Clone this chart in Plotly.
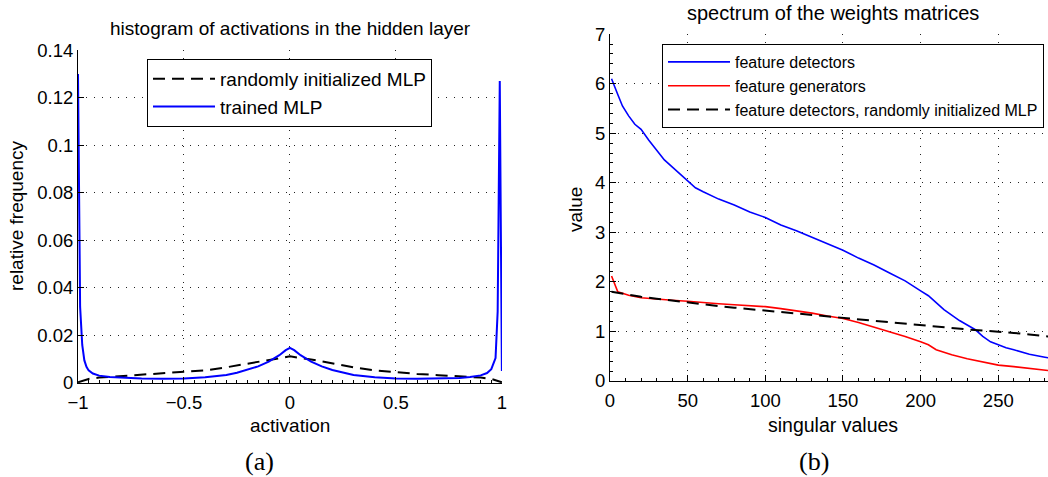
import plotly.graph_objects as go

# ---------------- data: (a) histogram of activations ----------------
act_random = [-1.0, -0.97, -0.95, -0.9, -0.8, -0.7, -0.6, -0.5, -0.4, -0.3, -0.2, -0.1, 0.0,
              0.1, 0.2, 0.3, 0.4, 0.5, 0.6, 0.7, 0.8, 0.9, 0.95, 0.97, 1.0]
freq_random = [0.0003, 0.0012, 0.0017, 0.0023, 0.0029, 0.0033, 0.0038, 0.0044, 0.0053, 0.0066,
               0.0082, 0.0099, 0.0112, 0.0099, 0.0082, 0.0066, 0.0053, 0.0044, 0.0038, 0.0033,
               0.0029, 0.0023, 0.0017, 0.0012, 0.0003]

act_trained = [-1.0, -0.99, -0.98, -0.97, -0.96, -0.95, -0.93, -0.9, -0.85, -0.8, -0.7, -0.6,
               -0.5, -0.4, -0.3, -0.25, -0.2, -0.15, -0.1, -0.05, -0.02, 0.0, 0.02, 0.05, 0.1,
               0.15, 0.2, 0.25, 0.3, 0.4, 0.5, 0.6, 0.7, 0.8, 0.85, 0.9, 0.93, 0.95, 0.97,
               0.98, 0.99, 1.0]
freq_trained = [0.130, 0.032, 0.016, 0.0095, 0.0068, 0.0053, 0.0040, 0.0031, 0.0025, 0.0022,
                0.0019, 0.0018, 0.0019, 0.0024, 0.0034, 0.0043, 0.0055, 0.0070, 0.0090, 0.0117,
                0.0138, 0.0148, 0.0138, 0.0117, 0.0090, 0.0070, 0.0055, 0.0043, 0.0034, 0.0024,
                0.0019, 0.0018, 0.0018, 0.0021, 0.0025, 0.0032, 0.0042, 0.0058, 0.0105, 0.030,
                0.127, 0.005]

hist_xticks = [-1, -0.5, 0, 0.5, 1]
hist_xticktext = ["\u22121", "\u22120.5", "0", "0.5", "1"]
hist_yticks = [0, 0.02, 0.04, 0.06, 0.08, 0.1, 0.12, 0.14]
hist_yticktext = ["0", "0.02", "0.04", "0.06", "0.08", "0.1", "0.12", "0.14"]

# ---------------- data: (b) spectrum of the weights matrices ----------------
sv_det = [1, 3, 5, 8, 12, 16, 20, 25, 30, 35, 40, 45, 50, 55, 60, 70, 80, 90, 100, 110, 120,
          130, 140, 150, 160, 170, 180, 190, 200, 205, 210, 215, 220, 225, 230, 235, 240, 245,
          250, 255, 260, 270, 280, 285]
val_det = [6.10, 5.92, 5.78, 5.55, 5.35, 5.18, 5.08, 4.86, 4.65, 4.46, 4.32, 4.18, 4.05, 3.90,
           3.82, 3.67, 3.55, 3.41, 3.30, 3.15, 3.03, 2.90, 2.78, 2.64, 2.48, 2.34, 2.18, 2.02,
           1.82, 1.72, 1.58, 1.44, 1.33, 1.22, 1.13, 1.04, 0.90, 0.79, 0.73, 0.67, 0.63, 0.54,
           0.48, 0.45]

sv_gen = [1, 3, 5, 8, 12, 20, 30, 40, 50, 60, 70, 80, 90, 100, 110, 120, 130, 140, 150, 160,
          170, 180, 190, 200, 205, 210, 215, 220, 230, 240, 250, 260, 270, 280, 285]
val_gen = [2.12, 1.95, 1.80, 1.77, 1.73, 1.68, 1.65, 1.63, 1.61, 1.58, 1.56, 1.54, 1.52, 1.50,
           1.46, 1.42, 1.37, 1.31, 1.26, 1.18, 1.09, 0.99, 0.90, 0.79, 0.73, 0.63, 0.58, 0.53,
           0.45, 0.38, 0.32, 0.29, 0.25, 0.21, 0.20]

sv_rand = [1, 10, 20, 30, 40, 50, 60, 70, 80, 90, 100, 110, 120, 130, 140, 150, 160, 170, 180,
           190, 200, 210, 220, 230, 240, 250, 260, 270, 280, 285]
val_rand = [1.80, 1.75, 1.70, 1.66, 1.62, 1.58, 1.54, 1.51, 1.48, 1.45, 1.43, 1.40, 1.37, 1.34,
            1.31, 1.28, 1.24, 1.21, 1.18, 1.16, 1.13, 1.10, 1.07, 1.04, 1.02, 1.00, 0.97, 0.94,
            0.91, 0.89]

spec_xticks = [0, 50, 100, 150, 200, 250]
spec_yticks = [0, 1, 2, 3, 4, 5, 6, 7]

# ---------------- figure ----------------
W, H = 1048, 477
FONT = "Liberation Sans, Arial, Helvetica, sans-serif"
DASH = "12px,7px"

def px(x):
    return x / W

def py(y):
    return 1 - y / H

fig = go.Figure()

fig.add_trace(go.Scatter(x=act_random, y=freq_random, mode="lines", name="randomly initialized MLP",
                         line=dict(color="black", width=2, dash=DASH),
                         xaxis="x", yaxis="y", legend="legend"))
fig.add_trace(go.Scatter(x=act_trained, y=freq_trained, mode="lines", name="trained MLP",
                         line=dict(color="#0000FF", width=2),
                         xaxis="x", yaxis="y", legend="legend"))

fig.add_trace(go.Scatter(x=sv_det, y=val_det, mode="lines", name="feature detectors",
                         line=dict(color="#0000FF", width=1.6),
                         xaxis="x2", yaxis="y2", legend="legend2"))
fig.add_trace(go.Scatter(x=sv_gen, y=val_gen, mode="lines", name="feature generators",
                         line=dict(color="#FF0000", width=1.6),
                         xaxis="x2", yaxis="y2", legend="legend2"))
fig.add_trace(go.Scatter(x=sv_rand, y=val_rand, mode="lines",
                         name="feature detectors, randomly initialized MLP",
                         line=dict(color="black", width=2, dash=DASH),
                         xaxis="x2", yaxis="y2", legend="legend2"))

grid = dict(showgrid=True, gridcolor="#222222", gridwidth=1, griddash="1px,7px",
            zeroline=False, showline=True, linecolor="black", linewidth=1,
            ticks="inside", ticklen=6, tickcolor="black", automargin=False,
            tickfont=dict(family=FONT, size=18.5, color="black"))

fig.update_layout(
    width=W, height=H,
    margin=dict(l=0, r=0, t=0, b=0, pad=0),
    paper_bgcolor="white", plot_bgcolor="white",
    font=dict(family=FONT, size=18, color="black"),
    showlegend=True,
    hovermode=False,
    xaxis=dict(domain=[px(78), px(502)], range=[-1, 1.0005], tickvals=hist_xticks,
               ticktext=hist_xticktext, anchor="y", ticklabelstandoff=3,
               minor=dict(ticks="inside", dtick=0.05, ticklen=3, tickcolor="black", showgrid=False),
               **grid),
    yaxis=dict(domain=[py(383), py(50)], range=[0, 0.14005], tickvals=hist_yticks,
               ticktext=hist_yticktext, anchor="x", **grid),
    xaxis2=dict(domain=[px(610), 1.0], range=[0, 282], tickvals=spec_xticks, anchor="y2",
                ticklabelstandoff=3,
                minor=dict(ticks="inside", dtick=10, ticklen=3, tickcolor="black", showgrid=False),
                **grid),
    yaxis2=dict(domain=[py(381), py(34)], range=[0, 7.002], tickvals=spec_yticks, anchor="x2",
                minor=dict(ticks="inside", dtick=0.2, ticklen=3, tickcolor="black", showgrid=False),
                **grid),
    legend=dict(x=px(147), y=py(59), xanchor="left", yanchor="top",
                bgcolor="white", bordercolor="black", borderwidth=1,
                font=dict(family=FONT, size=19, color="black"), itemwidth=62,
                tracegroupgap=0),
    legend2=dict(x=px(662), y=py(44), xanchor="left", yanchor="top",
                 bgcolor="white", bordercolor="black", borderwidth=1,
                 font=dict(family=FONT, size=16, color="black"), itemwidth=62,
                 tracegroupgap=0),
)

ann = [
    dict(text="histogram of activations in the hidden layer", x=px(290), y=py(28), size=19),
    dict(text="spectrum of the weights matrices", x=px(833), y=py(13), size=20),
    dict(text="activation", x=px(290), y=py(425), size=19),
    dict(text="singular values", x=px(833), y=py(425), size=19.5),
]
for a in ann:
    fig.add_annotation(text=a["text"], x=a["x"], y=a["y"], xref="paper", yref="paper",
                       xanchor="center", yanchor="middle", showarrow=False,
                       font=dict(family=FONT, size=a["size"], color="black"))

fig.add_annotation(text="relative frequency", x=px(16), y=py(216), xref="paper", yref="paper",
                   xanchor="center", yanchor="middle", showarrow=False, textangle=-90,
                   font=dict(family=FONT, size=19, color="black"))
fig.add_annotation(text="value", x=px(575), y=py(210), xref="paper", yref="paper",
                   xanchor="center", yanchor="middle", showarrow=False, textangle=-90,
                   font=dict(family=FONT, size=19, color="black"))

for lab, xx in [("(a)", 259), ("(b)", 814)]:
    fig.add_annotation(text=lab, x=px(xx), y=py(461), xref="paper", yref="paper",
                       xanchor="center", yanchor="middle", showarrow=False,
                       font=dict(family="Liberation Serif, DejaVu Serif, serif", size=26,
                                 color="black"))

fig.write_html("out.html", config={"displayModeBar": False},
               post_script="document.body.style.margin='0';document.body.style.overflow='hidden';")
